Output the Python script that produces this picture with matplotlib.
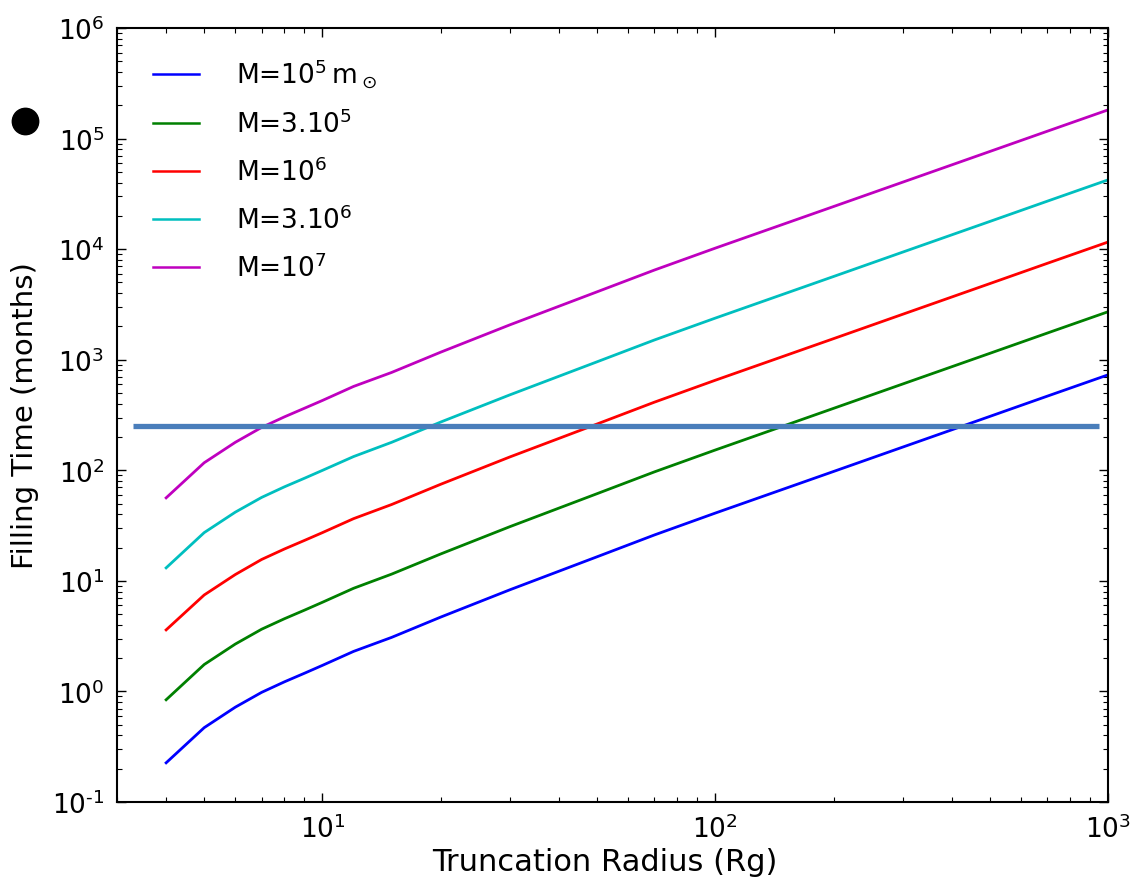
import numpy as np
import matplotlib
matplotlib.use("Agg")
import matplotlib.pyplot as plt
from matplotlib.lines import Line2D

plt.rcParams['axes.unicode_minus'] = False
plt.rcParams['mathtext.default'] = 'regular'

# truncation radius (Rg)
radius = [4, 5, 6, 7, 8, 9, 10, 12, 15, 20, 30, 50, 70, 100, 200, 300, 500, 700, 1000]

# filling time in months, one list per black hole mass
t_1e5 = [0.226, 0.47, 0.72, 0.98, 1.22, 1.46, 1.72, 2.3, 3.08, 4.7, 8.3, 16.5, 26.0,
         41.0, 97.5, 162, 307, 468, 730]
t_3e5 = [0.84, 1.75, 2.68, 3.65, 4.54, 5.43, 6.4, 8.56, 11.5, 17.5, 30.9, 61.4, 96.7,
         152.5, 363, 603, 1142, 1741, 2716]
t_1e6 = [3.6, 7.45, 11.4, 15.6, 19.4, 23.2, 27.3, 36.5, 49.0, 74.7, 132, 262, 413,
         652, 1550, 2576, 4880, 7440, 11600]
t_3e6 = [13.1, 27.3, 41.8, 56.8, 70.8, 84.7, 99.8, 133, 179, 273, 481, 957, 1508,
         2378, 5655, 9400, 17800, 27140, 42340]
t_1e7 = [56.3, 117, 179, 244, 304, 364, 428, 573, 767, 1170, 2067, 4110, 6470,
         10210, 24280, 40340, 76440, 116500, 181800]

labels = [r'M=$10^5\,$m$_\odot$', r'M=3.$10^5$', r'M=$10^6$', r'M=3.$10^6$', r'M=$10^7$']
colors = ['b', 'g', 'r', 'c', 'm']

# threshold line drawn over the plot
thresh_val = 250
thresh_x = [3.3, 950]

fig = plt.figure(figsize=(11.32, 8.79), dpi=100)
ax = fig.add_axes([0.1034, 0.0865, 0.8755, 0.8805])

for t, lab, c in zip([t_1e5, t_3e5, t_1e6, t_3e6, t_1e7], labels, colors):
    ax.plot(radius, t, color=c, lw=2, label=lab)

ax.hlines(thresh_val, thresh_x[0], thresh_x[1], color='#4a7ebb', lw=3.8, zorder=5)

ax.set_xscale('log')
ax.set_yscale('log')
ax.set_xlim(3, 1000)
ax.set_ylim(0.1, 1e6)


def log_fmt(v, pos):
    e = int(round(np.log10(v)))
    if e < 0:
        return r'$10^{\text{-}%d}$' % (-e)
    return r'$10^{%d}$' % e


ax.xaxis.set_major_formatter(matplotlib.ticker.FuncFormatter(log_fmt))
ax.yaxis.set_major_formatter(matplotlib.ticker.FuncFormatter(log_fmt))

ax.set_xlabel('Truncation Radius (Rg)', fontsize=22, va='center', ha='center')
ax.set_ylabel('Filling Time (months)', fontsize=21, va='center', ha='center')
ax.xaxis.set_label_coords(0.492, -0.077)
ax.yaxis.set_label_coords(-0.093, 0.5)

ax.tick_params(which='both', direction='in', top=True, right=True, labelsize=19)
ax.tick_params(which='major', length=6.5, width=1, pad=9)
ax.tick_params(which='minor', length=3.3, width=0.8)
ax.yaxis.set_minor_locator(matplotlib.ticker.LogLocator(base=10, subs=np.arange(2, 10), numticks=20))
for s in ax.spines.values():
    s.set_linewidth(1.5)

leg = ax.legend(loc='upper left', bbox_to_anchor=(0.007, 1.0), frameon=False,
                fontsize=19, handlelength=1.75, handletextpad=1.4, labelspacing=0.74,
                borderaxespad=0.5, borderpad=0.6)
for h in leg.get_lines():
    h.set_linewidth(1.8)

# black bullet outside the axes
fig.add_artist(Line2D([25 / 1132], [1 - 122 / 879], marker='o', markersize=19,
                      color='k', transform=fig.transFigure))

fig.savefig('out.png', dpi=100)
